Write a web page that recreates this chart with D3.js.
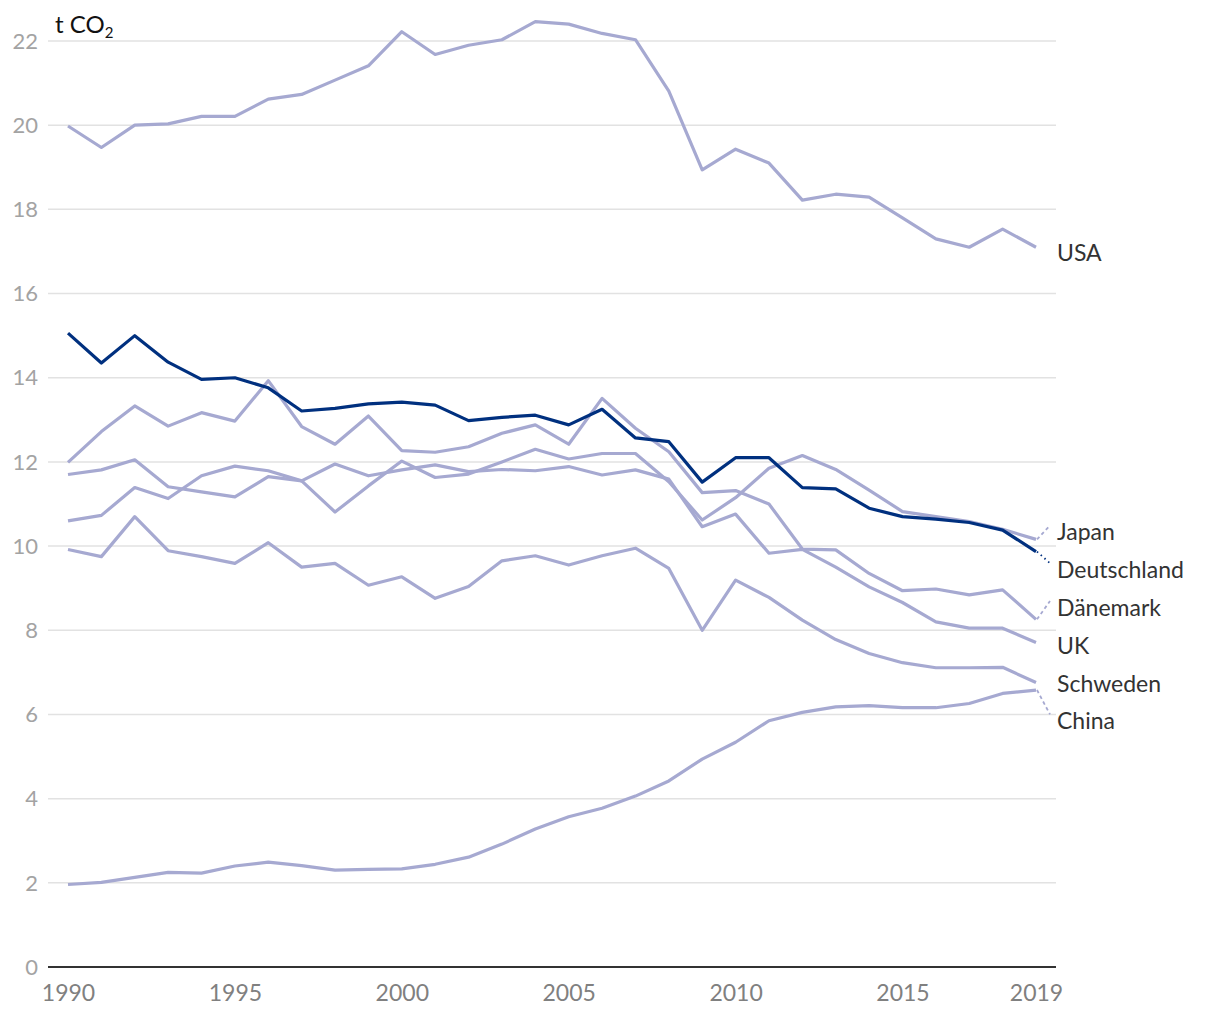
<!DOCTYPE html>
<html><head><meta charset="utf-8">
<script src="https://cdn.jsdelivr.net/npm/d3@7"></script>
<style>
html,body{margin:0;padding:0;background:#fff;}
svg{display:block;font-family:Lato,"Open Sans",sans-serif;}
</style></head>
<body>
<svg id="chart" width="1220" height="1020"></svg>
<script>
const years = d3.range(1990, 2020);
const xTicks = [1990, 1995, 2000, 2005, 2010, 2015, 2019];
const yTicks = [0, 2, 4, 6, 8, 10, 12, 14, 16, 18, 20, 22];

const usa = [19.98,19.47,20.0,20.03,20.21,20.21,20.62,20.73,21.07,21.41,22.22,21.68,21.9,22.03,22.46,22.4,22.18,22.03,20.81,18.94,19.43,19.1,18.22,18.36,18.29,17.8,17.3,17.1,17.53,17.1];
const deutschland = [15.06,14.35,15.0,14.37,13.96,14.0,13.76,13.21,13.27,13.38,13.42,13.35,12.98,13.06,13.11,12.88,13.25,12.57,12.48,11.52,12.1,12.1,11.39,11.36,10.9,10.7,10.64,10.56,10.38,9.87];
const daenemark = [11.99,12.72,13.33,12.85,13.17,12.97,13.93,12.84,12.42,13.09,12.27,12.23,12.36,12.68,12.88,12.42,13.51,12.8,12.24,11.27,11.32,11.0,9.93,9.91,9.35,8.94,8.98,8.84,8.96,8.26];
const japan = [10.6,10.73,11.39,11.13,11.67,11.9,11.79,11.55,10.81,11.43,12.02,11.63,11.71,12.0,12.3,12.07,12.2,12.2,11.53,10.62,11.15,11.85,12.15,11.82,11.33,10.82,10.7,10.58,10.4,10.16];
const uk = [11.7,11.81,12.05,11.41,11.29,11.17,11.65,11.55,11.95,11.67,11.81,11.93,11.77,11.82,11.79,11.89,11.69,11.81,11.59,10.46,10.76,9.83,9.92,9.5,9.03,8.66,8.2,8.05,8.05,7.71];
const schweden = [9.92,9.75,10.7,9.89,9.75,9.59,10.08,9.5,9.59,9.07,9.27,8.76,9.04,9.65,9.77,9.55,9.77,9.95,9.47,8.0,9.19,8.78,8.24,7.78,7.45,7.23,7.11,7.11,7.12,6.76];
const china = [1.96,2.01,2.13,2.25,2.23,2.4,2.49,2.41,2.3,2.32,2.33,2.44,2.61,2.92,3.28,3.57,3.77,4.06,4.42,4.94,5.34,5.85,6.05,6.18,6.21,6.16,6.16,6.26,6.5,6.58];

const seriesNames = ["USA","Japan","Dänemark","UK","Schweden","China","Deutschland"];
const seriesValues = [usa, japan, daenemark, uk, schweden, china, deutschland];
const highlight = "Deutschland";

const LIGHT = "#a6a9d1", DARK = "#00307f";

const svg = d3.select("#chart");
const x = d3.scaleLinear().domain([1990, 2019]).range([68, 1036]);
const y = d3.scaleLinear().domain([0, 22]).range([967, 41]);
const gridL = 48, gridR = 1056;

// grid
svg.append("g").selectAll("line").data(yTicks.filter(d => d > 0)).join("line")
  .attr("x1", gridL).attr("x2", gridR)
  .attr("y1", d => y(d)).attr("y2", d => y(d))
  .attr("stroke", "#e2e2e2").attr("stroke-width", 1.5);

// y tick labels
svg.append("g").selectAll("text").data(yTicks).join("text")
  .attr("x", 38).attr("y", d => y(d)).attr("dy", "0.35em")
  .attr("text-anchor", "end").attr("font-size", 22).attr("fill", "#a3a3a3")
  .text(d => d);

// x axis
const xAxis = d3.axisBottom(x).tickValues(xTicks).tickFormat(d3.format("d")).tickSize(0).tickPadding(18);
const gx = svg.append("g").attr("transform", `translate(0,${y(0)})`).call(xAxis);
gx.select(".domain").remove();
gx.selectAll("text").attr("font-size", 23).attr("fill", "#808080").attr("font-family", "Lato,sans-serif");
svg.append("line").attr("x1", gridL).attr("x2", gridR).attr("y1", y(0)).attr("y2", y(0))
  .attr("stroke", "#333").attr("stroke-width", 2);

// title
const t = svg.append("text").attr("x", 55).attr("y", 33).attr("font-size", 24).attr("fill", "#111");
t.append("tspan").text("t CO");
t.append("tspan").attr("font-size", 15).attr("dy", 5).text("2");

// lines
const line = d3.line().x((d, i) => x(years[i])).y(d => y(d));
const series = seriesNames.map((n, i) => ({name: n, values: seriesValues[i]}));
svg.append("g").selectAll("path").data(series).join("path")
  .attr("d", d => line(d.values))
  .attr("fill", "none")
  .attr("stroke", d => d.name === highlight ? DARK : LIGHT)
  .attr("stroke-width", 3.2)
  .attr("stroke-linejoin", "round");

// labels with collision avoidance
const spacing = 37.8, offset = 6;
const labels = series.map(s => {
  const v = s.values[s.values.length - 1];
  return {name: s.name, ly: y(v), natural: y(v) + offset};
}).sort((a, b) => a.natural - b.natural);
let clusters = labels.map(l => ({items: [l], center: l.natural}));
function layout(c) {
  const n = c.items.length;
  c.items.forEach((it, i) => it.pos = c.center + (i - (n - 1) / 2) * spacing);
}
let changed = true;
clusters.forEach(layout);
while (changed) {
  changed = false;
  for (let i = 0; i < clusters.length - 1; i++) {
    const a = clusters[i], b = clusters[i + 1];
    const aEnd = a.items[a.items.length - 1].pos, bStart = b.items[0].pos;
    if (bStart - aEnd < spacing) {
      const items = a.items.concat(b.items);
      const c = {items, center: d3.mean(items, d => d.natural)};
      layout(c);
      clusters.splice(i, 2, c);
      changed = true;
      break;
    }
  }
}
const xEnd = x(2019);
labels.forEach(l => {
  if (Math.abs(l.pos - l.natural) > 5) {
    svg.append("line")
      .attr("x1", xEnd + 1).attr("y1", l.ly)
      .attr("x2", xEnd + 14).attr("y2", l.pos - 7)
      .attr("stroke", l.name === highlight ? DARK : LIGHT)
      .attr("stroke-width", 1.8)
      .attr("stroke-dasharray", l.name === highlight ? "1.5,3.5" : "3.5,3");
  }
  svg.append("text").attr("x", 1057).attr("y", l.pos).attr("dy", "0.35em")
    .attr("font-size", 23).attr("fill", "#333").text(l.name);
});
</script>
</body></html>
